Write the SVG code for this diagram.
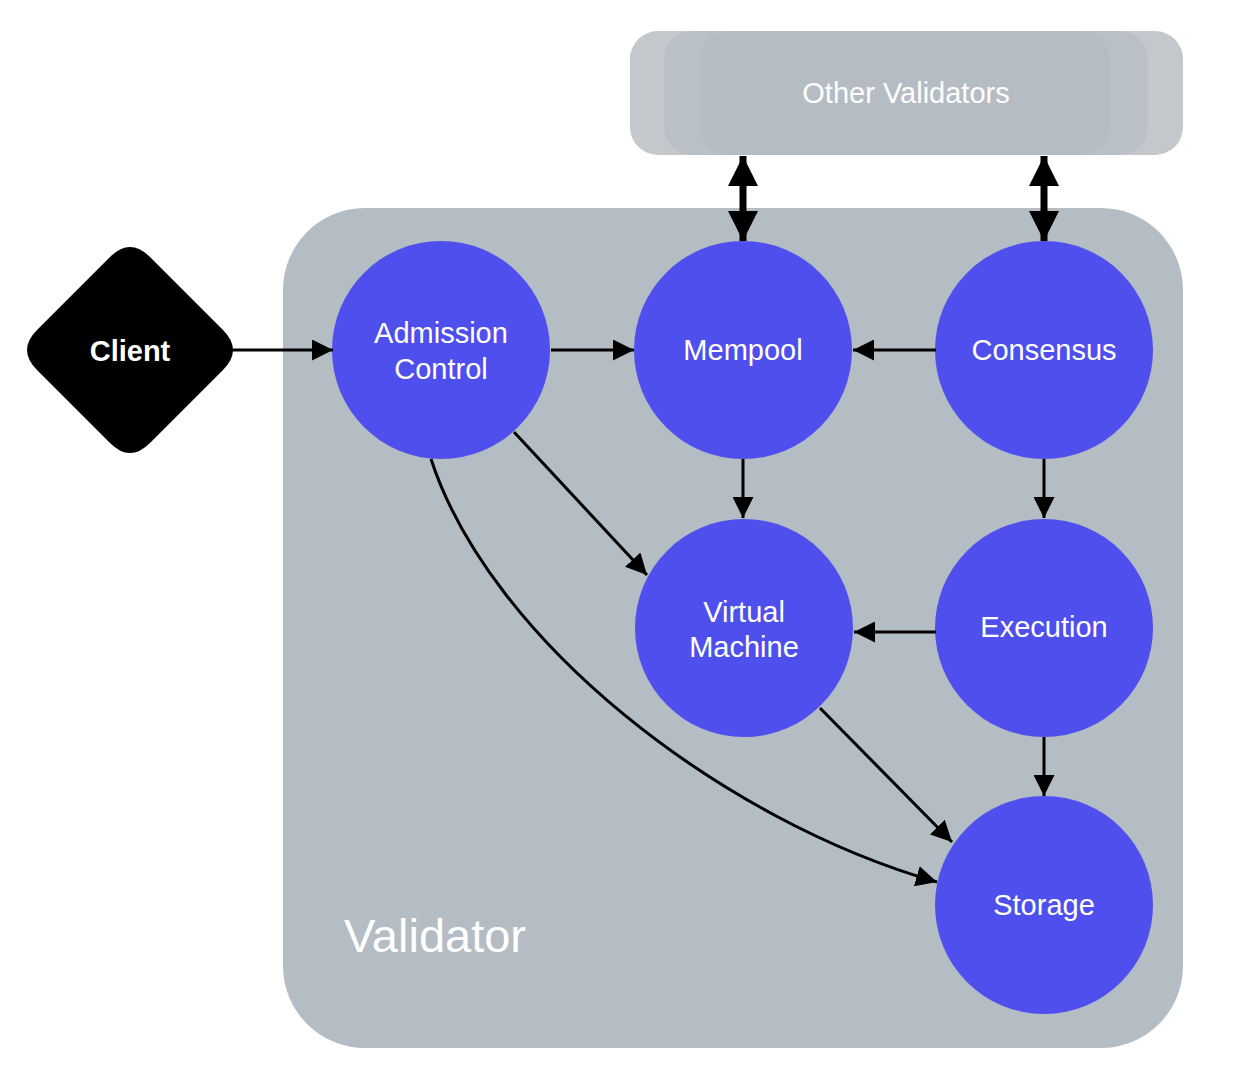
<svg xmlns="http://www.w3.org/2000/svg" width="1246" height="1080" viewBox="0 0 1246 1080">
<style>
.node{fill:#4f4fed}
.lbl{font-family:"Liberation Sans",Arial,sans-serif;font-size:29px;fill:#ffffff;text-anchor:middle}
.edge{stroke:#000;stroke-width:3;fill:none;marker-end:url(#ah)}
.dbl{stroke:#000;stroke-width:7;fill:none;marker-end:url(#big);marker-start:url(#bigs)}
</style>
<defs>
<marker id="ah" viewBox="0 0 10 10" refX="10" refY="5" markerWidth="7" markerHeight="7" markerUnits="strokeWidth" orient="auto"><path d="M0,0 L10,5 L0,10 z" fill="#000"/></marker>
<marker id="big" viewBox="0 0 10 10" refX="10" refY="5" markerWidth="4.3" markerHeight="4.3" markerUnits="strokeWidth" orient="auto"><path d="M0,0 L10,5 L0,10 z" fill="#000"/></marker>
<marker id="bigs" viewBox="0 0 10 10" refX="0" refY="5" markerWidth="4.3" markerHeight="4.3" markerUnits="strokeWidth" orient="auto"><path d="M10,0 L0,5 L10,10 z" fill="#000"/></marker>
</defs>
<rect width="1246" height="1080" fill="#ffffff"/>
<g id="other-validators">
<rect x="630" y="31" width="553" height="124" rx="28" fill="#c3c8cd"/>
<rect x="664" y="31" width="484" height="124" rx="28" fill="#b9c0c6"/>
<rect x="700" y="31" width="410" height="124" rx="28" fill="#b5bcc3"/>
<text class="lbl" x="906" y="103" font-size="30">Other Validators</text>
</g>
<g id="validator">
<rect x="283" y="208" width="900" height="840" rx="82" fill="#b4bcc4"/>
<text x="344" y="952" font-family="'Liberation Sans',Arial,sans-serif" font-size="47" fill="#ffffff">Validator</text>
</g>
<g id="client">
<path d="M130,247 Q140,247 150,257 L223,330 Q233,340 233,350 Q233,360 223,370 L150,443 Q140,453 130,453 Q120,453 110,443 L37,370 Q27,360 27,350 Q27,340 37,330 L110,257 Q120,247 130,247 Z" fill="#000"/>
<text x="130" y="361" font-family="'Liberation Sans',Arial,sans-serif" font-size="29" font-weight="bold" fill="#fff" text-anchor="middle">Client</text>
</g>
<g id="admission-control">
<circle class="node" cx="441" cy="350" r="109"/>
<text class="lbl" x="441" y="343">Admission</text>
<text class="lbl" x="441" y="379">Control</text>
</g>
<g id="mempool">
<circle class="node" cx="743" cy="350" r="109"/>
<text class="lbl" x="743" y="360">Mempool</text>
</g>
<g id="consensus">
<circle class="node" cx="1044" cy="350" r="109"/>
<text class="lbl" x="1044" y="360">Consensus</text>
</g>
<g id="virtual-machine">
<circle class="node" cx="744" cy="628" r="109"/>
<text class="lbl" x="744" y="622">Virtual</text>
<text class="lbl" x="744" y="657">Machine</text>
</g>
<g id="execution">
<circle class="node" cx="1044" cy="628" r="109"/>
<text class="lbl" x="1044" y="637">Execution</text>
</g>
<g id="storage">
<circle class="node" cx="1044" cy="905" r="109"/>
<text class="lbl" x="1044" y="915">Storage</text>
</g>
<g id="connectors">
<line class="edge" x1="232" y1="350" x2="333" y2="350"/>
<line class="edge" x1="551" y1="350" x2="634" y2="350"/>
<line class="edge" x1="936" y1="350" x2="853" y2="350"/>
<line class="edge" x1="743" y1="459" x2="743" y2="518"/>
<line class="edge" x1="1044" y1="459" x2="1044" y2="518"/>
<line class="edge" x1="936" y1="632" x2="854" y2="632"/>
<line class="edge" x1="1044" y1="737" x2="1044" y2="796"/>
<line class="edge" x1="514" y1="432" x2="647" y2="575"/>
<line class="edge" x1="820" y1="708" x2="952" y2="842"/>
<path class="edge" d="M431,459 C490,640 720,820 937,882"/>
<line class="dbl" x1="743" y1="156" x2="743" y2="241"/>
<line class="dbl" x1="1044" y1="156" x2="1044" y2="241"/>
</g>
</svg>
